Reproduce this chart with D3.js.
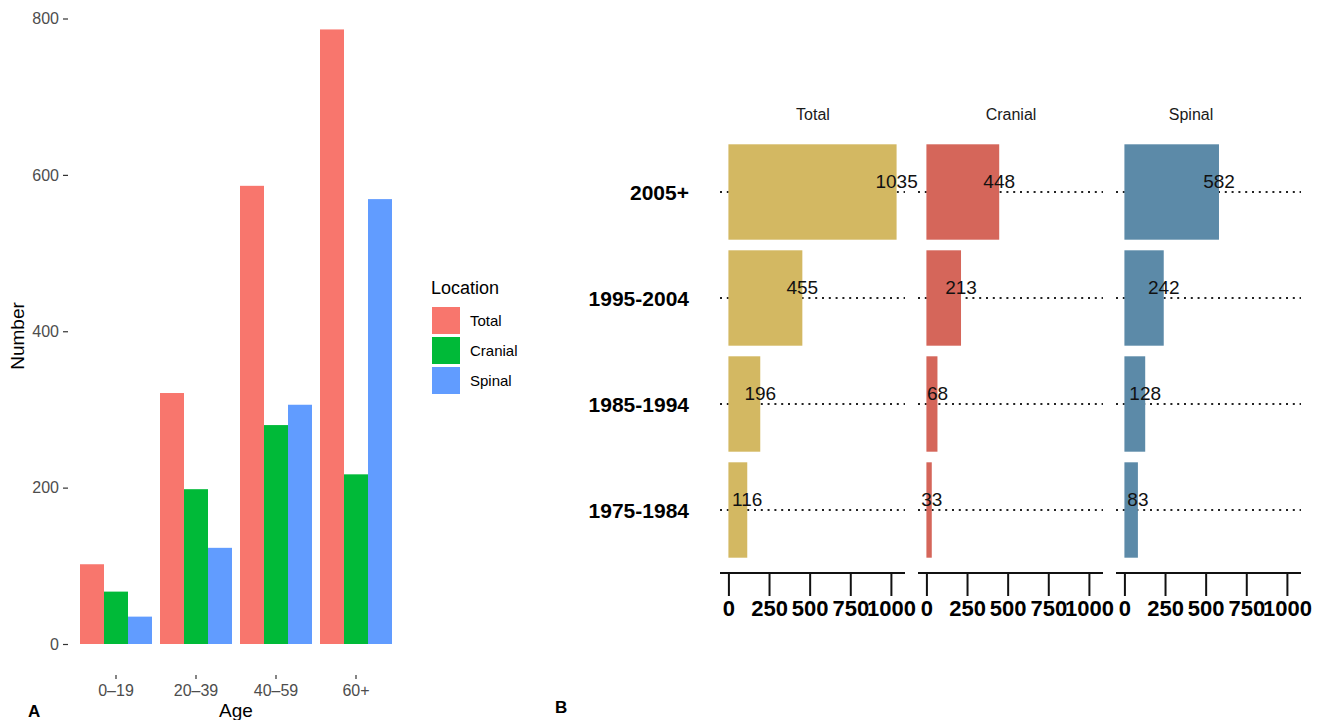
<!DOCTYPE html>
<html>
<head>
<meta charset="utf-8">
<script src="https://cdn.jsdelivr.net/npm/d3@7"></script>
<style>
  html, body { margin: 0; padding: 0; background: #fff; }
  svg { display: block; font-family: "Liberation Sans", Arial, Helvetica, sans-serif; }
</style>
</head>
<body>
<svg id="chart" width="1321" height="720"></svg>
<script>
// ---------- Panel A data ----------
const ageGroups = ["0\u201319", "20\u201339", "40\u201359", "60+"];
const locations = ["Total", "Cranial", "Spinal"];
const ageTotal   = [102, 321, 586, 786];
const ageCranial = [67, 198, 280, 217];
const ageSpinal  = [35, 123, 306, 569];
const yTicksA = [0, 200, 400, 600, 800];

// ---------- Panel B data ----------
const periods = ["2005+", "1995-2004", "1985-1994", "1975-1984"];
const facets = ["Total", "Cranial", "Spinal"];
const periodTotal   = [1035, 455, 196, 116];
const periodCranial = [448, 213, 68, 33];
const periodSpinal  = [582, 242, 128, 83];
const xTicksB = [0, 250, 500, 750, 1000];

const colorsA = ["#F8766D", "#00BA38", "#619CFF"];
const colorsB = ["#D3B862", "#D5665A", "#5C8AA8"];

const svg = d3.select("#chart");
const FONT = "'Liberation Sans', Arial, sans-serif";

// ================= PANEL A =================
const seriesA = [ageTotal, ageCranial, ageSpinal];
const x0 = d3.scaleBand().domain(ageGroups).range([76, 396]).paddingInner(0.1).paddingOuter(0.05);
const x1 = d3.scaleBand().domain(locations).range([0, x0.bandwidth()]);
const yA = d3.scaleLinear().domain([0, 800]).range([644, 18.5]);

const gA = svg.append("g");
ageGroups.forEach((g, i) => {
  locations.forEach((loc, j) => {
    const v = seriesA[j][i];
    gA.append("rect")
      .attr("x", x0(g) + x1(loc))
      .attr("y", yA(v))
      .attr("width", x1.bandwidth())
      .attr("height", yA(0) - yA(v))
      .attr("fill", colorsA[j]);
  });
});

const yAxisA = d3.axisLeft(yA).tickValues(yTicksA).tickSize(5).tickPadding(4);
const gyA = svg.append("g").attr("transform", "translate(68,0)").call(yAxisA);
gyA.select(".domain").remove();
gyA.selectAll(".tick line").attr("stroke", "#333").attr("stroke-width", 1.2);
gyA.selectAll(".tick text").attr("fill", "#4d4d4d").style("font-size", "16px").style("font-family", FONT);

const xAxisA = d3.axisBottom(x0).tickSize(4).tickPadding(6);
const gxA = svg.append("g").attr("transform", "translate(0,675)").call(xAxisA);
gxA.select(".domain").remove();
gxA.selectAll(".tick line").attr("stroke", "#333").attr("stroke-width", 1.2);
gxA.selectAll(".tick text").attr("fill", "#4d4d4d").style("font-size", "16px").style("font-family", FONT);

svg.append("text").attr("x", 236).attr("y", 717).attr("text-anchor", "middle")
  .style("font-size", "19px").attr("fill", "#000").text("Age");
svg.append("text").attr("transform", "translate(24,336) rotate(-90)").attr("text-anchor", "middle")
  .style("font-size", "19px").attr("fill", "#000").text("Number");

const leg = svg.append("g");
leg.append("text").attr("x", 431).attr("y", 294).style("font-size", "18px").attr("fill", "#000").text("Location");
locations.forEach((loc, j) => {
  leg.append("rect").attr("x", 432).attr("y", 307 + j * 30).attr("width", 28).attr("height", 27).attr("fill", colorsA[j]);
  leg.append("text").attr("x", 470).attr("y", 326 + j * 30).style("font-size", "15px").attr("fill", "#000").text(loc);
});

svg.append("text").attr("x", 28).attr("y", 717).style("font-size", "17px").style("font-weight", "bold").text("A");

// ================= PANEL B =================
const seriesB = [periodTotal, periodCranial, periodSpinal];
const yB = d3.scaleBand().domain(periods).range([139, 563]).paddingInner(0.1).paddingOuter(0.05);
const panelW = 185;
const panelLefts = [720, 918, 1116];
const stripX = [813, 1011, 1191];
const maxV = d3.max(periodTotal);
const xB = d3.scaleLinear().domain([-0.05 * maxV, 1.05 * maxV]).range([0, panelW]);

facets.forEach((f, k) => {
  const g = svg.append("g").attr("transform", `translate(${panelLefts[k]},0)`);
  periods.forEach(p => {
    g.append("line")
      .attr("x1", 0).attr("x2", panelW)
      .attr("y1", yB(p) + yB.bandwidth() / 2).attr("y2", yB(p) + yB.bandwidth() / 2)
      .attr("stroke", "#222").attr("stroke-width", 2).attr("stroke-dasharray", "2,4.8");
  });
  periods.forEach((p, i) => {
    const v = seriesB[k][i];
    g.append("rect")
      .attr("x", xB(0)).attr("y", yB(p))
      .attr("width", xB(v) - xB(0)).attr("height", yB.bandwidth())
      .attr("fill", colorsB[k]);
  });
  periods.forEach((p, i) => {
    const v = seriesB[k][i];
    g.append("text")
      .attr("x", xB(v)).attr("y", yB(p) + yB.bandwidth() / 2 - 4)
      .attr("text-anchor", "middle").style("font-size", "19px").attr("fill", "#111")
      .text(v);
  });
  const ax = d3.axisBottom(xB).tickValues(xTicksB).tickFormat(d3.format("d"))
    .tickSize(23).tickPadding(4).tickSizeOuter(0);
  const gx = g.append("g").attr("transform", "translate(0,573)").call(ax);
  gx.select(".domain").attr("stroke", "#111").attr("stroke-width", 2).attr("d", `M0,0H${panelW}`);
  gx.selectAll(".tick line").attr("stroke", "#111").attr("stroke-width", 2);
  gx.selectAll(".tick text").attr("fill", "#000").style("font-size", "22px").style("font-weight", "bold")
    .style("font-family", FONT);
  svg.append("text").attr("x", stripX[k]).attr("y", 120).attr("text-anchor", "middle")
    .style("font-size", "16px").attr("fill", "#1a1a1a").text(f);
});

periods.forEach(p => {
  svg.append("text").attr("x", 689).attr("y", yB(p) + yB.bandwidth() / 2 + 8)
    .attr("text-anchor", "end").style("font-size", "21px").style("font-weight", "bold")
    .attr("fill", "#000").text(p);
});

svg.append("text").attr("x", 555).attr("y", 713).style("font-size", "17px").style("font-weight", "bold").text("B");
</script>
</body>
</html>
